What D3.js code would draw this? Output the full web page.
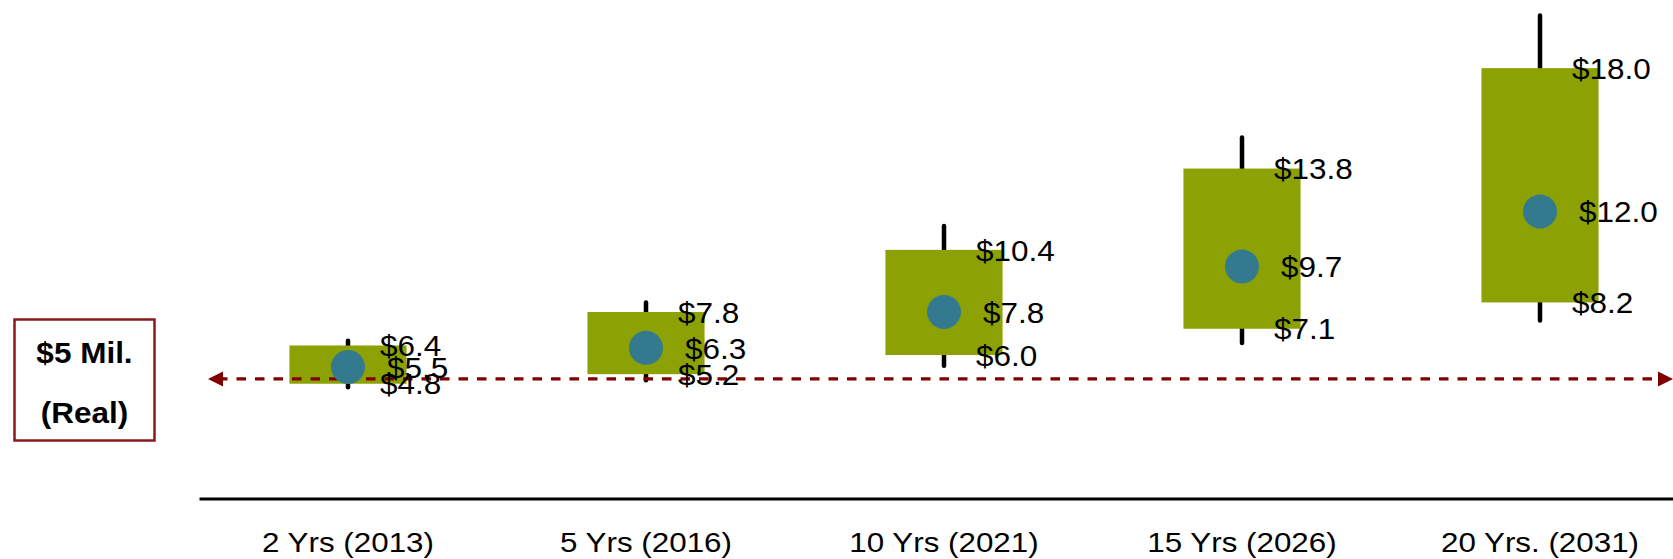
<!DOCTYPE html>
<html>
<head>
<meta charset="utf-8">
<script src="https://cdn.jsdelivr.net/npm/d3@7"></script>
<style>
  html, body { margin: 0; padding: 0; background: #fff; }
  svg { display: block; }
  text { font-family: "Liberation Sans", Arial, sans-serif; }
</style>
</head>
<body>
<svg id="chart" width="1673" height="559"></svg>
<script>
// Projected portfolio value ($ millions, real) by horizon
const categories = ["2 Yrs (2013)", "5 Yrs (2016)", "10 Yrs (2021)", "15 Yrs (2026)", "20 Yrs. (2031)"];
const whiskerLow  = [4.65, 4.95, 5.55, 6.5, 7.45];
const boxLow      = [4.8, 5.2, 6.0, 7.1, 8.2];
const median      = [5.5, 6.3, 7.8, 9.7, 12.0];
const boxHigh     = [6.4, 7.8, 10.4, 13.8, 18.0];
const whiskerHigh = [6.6, 8.2, 11.4, 15.1, 20.2];
const threshold = 5;
const thresholdLines = ["$5 Mil.", "(Real)"];

const W = 1673, H = 559;
const svg = d3.select("#chart");

const x = d3.scaleBand()
  .domain(categories)
  .range([199, 1689])
  .paddingInner(0.607)
  .paddingOuter(0.3035);

const y = d3.scaleLinear().domain([0, 20.85]).range([498.5, 0]);

const data = categories.map((c, i) => ({
  cat: c, wl: whiskerLow[i], lo: boxLow[i], mid: median[i], hi: boxHigh[i], wh: whiskerHigh[i]
}));
const cx = d => x(d.cat) + x.bandwidth() / 2;

const BOX = "#8ca204", DOT = "#337a8f", RED = "#800000";

// Category axis along the zero line
const axis = svg.append("g")
  .attr("transform", `translate(0,${y(0)})`)
  .call(d3.axisBottom(x).tickSize(0).tickSizeOuter(0));
axis.select(".domain").attr("stroke", "#000").attr("stroke-width", 3);
axis.selectAll(".tick text")
  .attr("fill", "#000")
  .attr("font-size", 28)
  .attr("dy", null)
  .attr("y", 54)
  .attr("transform", "scale(1.12,1)");

// Whiskers
svg.append("g").selectAll("line").data(data).join("line")
  .attr("x1", cx).attr("x2", cx)
  .attr("y1", d => y(d.wh)).attr("y2", d => y(d.wl))
  .attr("stroke", "#000").attr("stroke-width", 4.5).attr("stroke-linecap", "round");

// Boxes
svg.append("g").selectAll("rect").data(data).join("rect")
  .attr("x", d => x(d.cat)).attr("width", x.bandwidth())
  .attr("y", d => y(d.hi)).attr("height", d => y(d.lo) - y(d.hi))
  .attr("fill", BOX);

// $5M threshold line with arrowheads
const ty = y(threshold);
const tx0 = 208, tx1 = W;
svg.append("line")
  .attr("x1", tx0 + 10).attr("x2", tx1 - 10)
  .attr("y1", ty).attr("y2", ty)
  .attr("stroke", RED).attr("stroke-width", 3.2)
  .attr("stroke-dasharray", "9.5 9");
svg.append("path")
  .attr("d", `M${tx0},${ty} L${tx0 + 15},${ty - 7.5} L${tx0 + 15},${ty + 7.5} Z`)
  .attr("fill", RED);
svg.append("path")
  .attr("d", `M${tx1},${ty} L${tx1 - 15},${ty - 7.5} L${tx1 - 15},${ty + 7.5} Z`)
  .attr("fill", RED);

// Median dots
svg.append("g").selectAll("circle").data(data).join("circle")
  .attr("cx", cx).attr("cy", d => y(d.mid)).attr("r", 17)
  .attr("fill", DOT);

// Value labels
const fmt = v => "$" + d3.format(".1f")(v);
const labels = [];
data.forEach(d => {
  labels.push({ x: cx(d) + 32, v: d.hi });
  labels.push({ x: cx(d) + 39, v: d.mid });
  labels.push({ x: cx(d) + 32, v: d.lo });
});
svg.append("g").selectAll("text").data(labels).join("text")
  .attr("transform", d => `translate(${d.x},${y(d.v) + 10.7}) scale(1.05,1)`)
  .attr("font-size", 30)
  .attr("fill", "#000")
  .text(d => fmt(d.v));

// Threshold legend box
const lg = svg.append("g");
lg.append("rect")
  .attr("x", 14.5).attr("y", 319.5).attr("width", 140).attr("height", 121)
  .attr("fill", "#fff").attr("stroke", "#8b1a1a").attr("stroke-width", 2.5);
lg.selectAll("text").data(thresholdLines).join("text")
  .attr("transform", (d, i) => `translate(84.5,${363 + i * 60}) scale(1.05,1)`)
  .attr("text-anchor", "middle")
  .attr("font-size", 30)
  .attr("font-weight", "bold")
  .attr("fill", "#000")
  .text(d => d);
</script>
</body>
</html>
